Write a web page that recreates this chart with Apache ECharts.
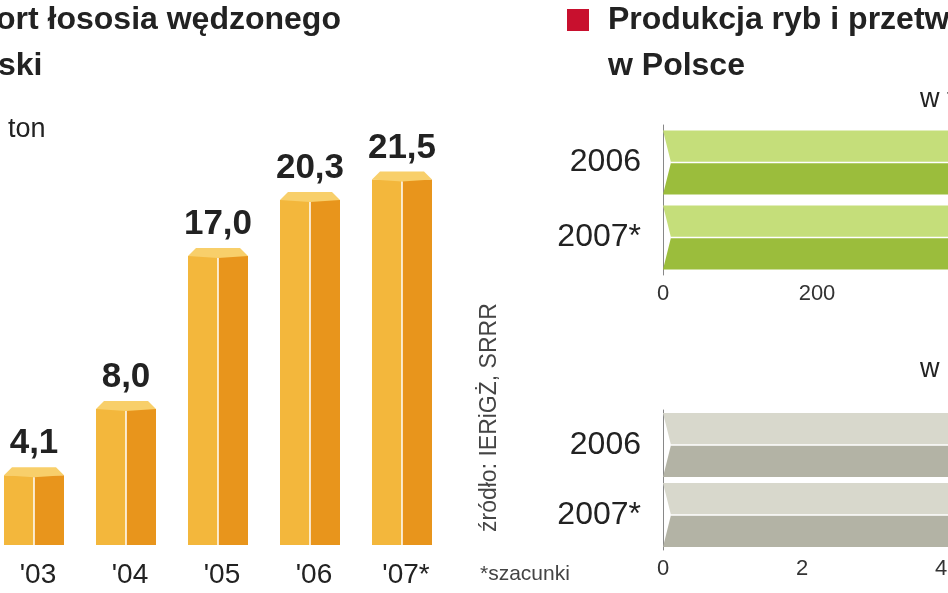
<!DOCTYPE html>
<html><head><meta charset="utf-8">
<script src="https://cdn.jsdelivr.net/npm/echarts@6/dist/echarts.min.js"></script>
<style>html,body{margin:0;padding:0;background:#fff}#c{width:948px;height:593px}</style>
</head><body><div id="c"></div>
<script>
const years = ["'03","'04","'05","'06","'07*"];
const exportVals = [4.1, 8.0, 17.0, 20.3, 21.5];
const exportLabels = ["4,1","8,0","17,0","20,3","21,5"];
const prodYears = ["2006","2007*"];
const prodTopVals = [520, 540];
const prodBottomVals = [5.6, 5.8];
const F = "'Liberation Sans Narrow','Liberation Sans',sans-serif";

const chart = echarts.init(document.getElementById('c'));
function box(params, api) {
  const p = api.coord([api.value(0), api.value(1)]);
  const b = api.coord([api.value(0), 0]);
  const cx = p[0]-4, top = p[1], base = b[1], w = 30, d = 8;
  return {type:'group', children:[
    {type:'rect', shape:{x:cx-w, y:top, width:w, height:base-top}, style:{fill:'#f3b73c'}},
    {type:'rect', shape:{x:cx, y:top, width:w, height:base-top}, style:{fill:'#e8951c'}},
    {type:'polygon', shape:{points:[[cx-w,top],[cx-w+d,top-d],[cx+w-d,top-d],[cx+w,top],[cx,top+2]]}, style:{fill:'#f8cf6a'}},
    {type:'line', shape:{x1:cx, y1:top+2, x2:cx, y2:base}, style:{stroke:'#fff', lineWidth:1.5}},
    {type:'text', style:{text:exportLabels[params.dataIndex], x:cx, y:top-d-6, align:'center', verticalAlign:'bottom', font:'bold 35px '+F, fill:'#222'}}
  ]};
}
function hbar(colLight, colDark) {
  return function(params, api) {
    const s = api.coord([0, api.value(1)]);
    const e = api.coord([api.value(0), api.value(1)]);
    const h = 64, x0 = s[0], y = s[1];
    const x1 = e[0];
    return {type:'group', children:[
      {type:'polygon', shape:{points:[[x0,y-h/2],[x1,y-h/2],[x1,y],[x0+8,y]]}, style:{fill:colLight}},
      {type:'polygon', shape:{points:[[x0+8,y],[x1,y],[x1,y+h/2],[x0,y+h/2]]}, style:{fill:colDark}},
      {type:'line', shape:{x1:x0+8,y1:y,x2:x1,y2:y}, style:{stroke:'#fff',lineWidth:1.5}}
    ]};
  };
}
const axisLbl = {fontFamily:F, fontSize:22, color:'#333'};
chart.setOption({
  animation:false,
  grid:[
    {left:-8, top:120, width:460, height:425, outerBoundsMode:'none'},
    {left:663, top:125, width:462, height:150, outerBoundsMode:'none'},
    {left:663, top:410, width:417, height:140, outerBoundsMode:'none'}
  ],
  xAxis:[
    {gridIndex:0, type:'category', data:years, axisLine:{show:false}, axisTick:{show:false}, axisLabel:{fontFamily:F, fontSize:28, color:'#222', margin:16}},
    {gridIndex:1, type:'value', min:0, max:600, interval:200, splitLine:{show:false}, axisLine:{show:false}, axisTick:{show:false}, axisLabel:axisLbl},
    {gridIndex:2, type:'value', min:0, max:6, interval:2, splitLine:{show:false}, axisLine:{show:false}, axisTick:{show:false}, axisLabel:axisLbl}
  ],
  yAxis:[
    {gridIndex:0, type:'value', min:0, max:25, show:false},
    {gridIndex:1, type:'category', data:prodYears, inverse:true, axisLine:{lineStyle:{color:'#888'}}, axisTick:{show:false}, axisLabel:{fontFamily:F, fontSize:32, color:'#222', margin:22}},
    {gridIndex:2, type:'category', data:prodYears, inverse:true, axisLine:{lineStyle:{color:'#888'}}, axisTick:{show:false}, axisLabel:{fontFamily:F, fontSize:32, color:'#222', margin:22}}
  ],
  series:[
    {type:'custom', xAxisIndex:0, yAxisIndex:0, renderItem:box, data:exportVals.map((v,i)=>[i,v])},
    {type:'custom', xAxisIndex:1, yAxisIndex:1, renderItem:hbar('#c5de7a','#9bbd3c'), data:prodTopVals.map((v,i)=>[v,i])},
    {type:'custom', xAxisIndex:2, yAxisIndex:2, renderItem:hbar('#d8d8cc','#b3b3a5'), data:prodBottomVals.map((v,i)=>[v,i])}
  ],
  graphic:[
    {type:'text', left:-4, top:4, style:{text:'ort łososia wędzonego', font:'bold 32px '+F, fill:'#222'}},
    {type:'text', left:-2, top:50, style:{text:'ski', font:'bold 32px '+F, fill:'#222'}},
    {type:'text', left:8, top:116, style:{text:'ton', font:'27px '+F, fill:'#222'}},
    {type:'text', x:478, y:532, rotation:Math.PI/2, style:{text:'źródło: IERiGŻ, SRRR', font:'23px '+F, fill:'#444'}},
    {type:'text', left:480, top:564, style:{text:'*szacunki', font:'21px '+F, fill:'#444'}},
    {type:'rect', shape:{x:567, y:9, width:22, height:22}, style:{fill:'#c8102e'}},
    {type:'text', left:608, top:4, style:{text:'Produkcja ryb i przetworów rybnych', font:'bold 32px '+F, fill:'#222'}},
    {type:'text', left:608, top:50, style:{text:'w Polsce', font:'bold 32px '+F, fill:'#222'}},
    {type:'text', left:920, top:86, style:{text:'w tys. ton', font:'27px '+F, fill:'#222'}},
    {type:'text', left:920, top:356, style:{text:'w mld zł', font:'27px '+F, fill:'#222'}}
  ]
});
</script></body></html>
